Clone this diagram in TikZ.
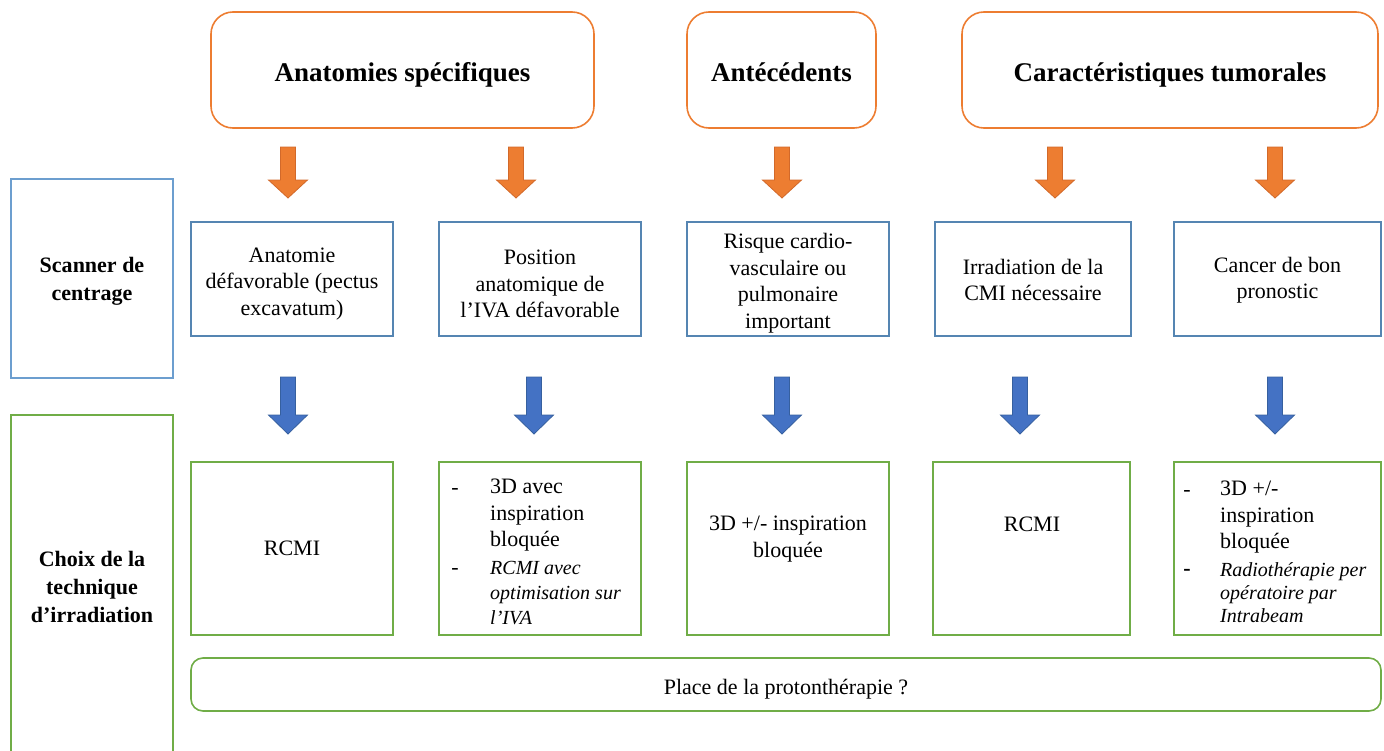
\documentclass[tikz,border=0pt]{standalone}
\usepackage{fontspec}
\setmainfont{Liberation Serif}
\definecolor{orng}{HTML}{ED7D31}
\definecolor{orngdk}{HTML}{D2692A}
\definecolor{bluebox}{HTML}{5585B2}
\definecolor{bluelt}{HTML}{6C9ECF}
\definecolor{grn}{HTML}{70AD47}
\definecolor{arrblue}{HTML}{4472C4}
\definecolor{arrbluedk}{HTML}{36609F}
% #1 coordinate (top centre), #2 style, #3 shaft length, #4 head length
\newcommand\blkarrow[4]{%
  \draw[#2] (#1) ++(-7.5,0) -- ++(0,#3) -- ++(-12,0) -- ++(19.5,#4) -- ++(19.5,-#4) -- ++(-12,0) -- ++(0,-#3) -- cycle;}
\tikzset{
  topbox/.style={draw=orng, line width=1.6bp, rounded corners=22bp, minimum height=116bp},
  toptxt/.style={inner sep=0, text height=19bp, text depth=6bp,
    font=\fontsize{27bp}{32bp}\selectfont\bfseries},
  midbox/.style={draw=bluebox, line width=1.6bp, minimum height=114bp},
  lowbox/.style={draw=grn, line width=1.6bp, minimum height=173bp},
  boxtxt/.style={inner sep=0, align=center},
  sidebox/.style={line width=1.6bp, minimum width=162bp},
  sidetxt/.style={inner sep=0, align=center, font=\fontsize{22bp}{28bp}\selectfont\bfseries},
  oarr/.style={fill=orng, draw=orngdk, line width=0.8bp},
  barr/.style={fill=arrblue, draw=arrbluedk, line width=0.8bp},
  itemtxt/.style={inner sep=0, anchor=north west, align=left},
  dashmark/.style={inner sep=0, anchor=base},
  itfont/.style={font=\fontsize{20bp}{25bp}\selectfont\itshape},
}
\begin{document}
\begin{tikzpicture}[x=1bp, y=-1bp, font=\fontsize{22bp}{26.5bp}\selectfont]
\path[use as bounding box] (0,0) rectangle (1384,750);

% top category boxes
\node[topbox, minimum width=383bp] (T1) at (402.5,70) {};
\node[topbox, minimum width=189bp] (T2) at (781.5,70) {};
\node[topbox, minimum width=416bp] (T3) at (1170,70) {};
\node[toptxt] (T1t) at ([yshift=-5bp]T1.center) {Anatomies spécifiques};
\node[toptxt] (T2t) at ([yshift=-5bp]T2.center) {Antécédents};
\node[toptxt] (T3t) at ([yshift=-5bp]T3.center) {Caractéristiques tumorales};

% side labels
\node[sidebox, draw=bluelt, minimum height=199bp] (S) at (92,278.5) {};
\node[sidetxt] (St) at ([yshift=-3bp]S.center) {Scanner de\\centrage};
\node[sidebox, draw=grn, minimum height=342bp] (C) at (92,586) {};
\node[sidetxt] (Ct) at ([yshift=-1bp]C.center) {Choix de la\\technique\\d’irradiation};

% orange arrows
\coordinate (oa1) at (288,147);
\coordinate (oa2) at (516,147);
\coordinate (oa3) at (782,147);
\coordinate (oa4) at (1055,147);
\coordinate (oa5) at (1275,147);
\blkarrow{oa1}{oarr}{33}{18}
\blkarrow{oa2}{oarr}{33}{18}
\blkarrow{oa3}{oarr}{33}{18}
\blkarrow{oa4}{oarr}{33}{18}
\blkarrow{oa5}{oarr}{33}{18}

% middle boxes
\node[midbox, minimum width=202bp] (mA) at (292,279) {};
\node[midbox, minimum width=202bp] (mB) at (540,279) {};
\node[midbox, minimum width=202bp] (mC) at (788,279) {};
\node[midbox, minimum width=196bp] (mD) at (1033,279) {};
\node[midbox, minimum width=207bp] (mE) at (1277.5,279) {};
\node[boxtxt] (mAt) at ([yshift=-5bp]mA.center) {Anatomie\\défavorable (pectus\\excavatum)};
\node[boxtxt] (mBt) at ([yshift=-5bp]mB.center) {Position\\anatomique de\\l’IVA défavorable};
\node[boxtxt] (mCt) at ([yshift=-4bp]mC.center) {Risque cardio-\\vasculaire ou\\pulmonaire\\important};
\node[boxtxt] (mDt) at ([yshift=-1bp]mD.center) {Irradiation de la\\CMI nécessaire};
\node[boxtxt] (mEt) at ([yshift=-1bp]mE.center) {Cancer de bon\\pronostic};

% blue arrows
\coordinate (ba1) at (288,377);
\coordinate (ba2) at (534,377);
\coordinate (ba3) at (782,377);
\coordinate (ba4) at (1020,377);
\coordinate (ba5) at (1275,377);
\blkarrow{ba1}{barr}{38}{19}
\blkarrow{ba2}{barr}{38}{19}
\blkarrow{ba3}{barr}{38}{19}
\blkarrow{ba4}{barr}{38}{19}
\blkarrow{ba5}{barr}{38}{19}

% lower boxes
\node[lowbox, minimum width=202bp] (lA) at (292,548.5) {RCMI};
\node[lowbox, minimum width=202bp] (lB) at (540,548.5) {};
\node[lowbox, minimum width=202bp] (lC) at (788,548.5) {};
\node[lowbox, minimum width=197bp] (lD) at (1031.5,548.5) {};
\node[lowbox, minimum width=207bp] (lE) at (1277.5,548.5) {};

% texts of lower boxes
\node[dashmark] (dB1) at (455,494) {-};
\node[itemtxt] (iB1) at (490,479) {3D avec\\inspiration\\bloquée};
\node[dashmark] (dB2) at (455,574) {-};
\node[itemtxt, itfont] (iB2) at (490,561) {RCMI avec\\optimisation sur\\l’IVA};

\node[boxtxt] (tC) at (788,539) {3D +/- inspiration\\bloquée};
\node[boxtxt] (tD) at (1032,524) {RCMI};

\node[dashmark] (dE1) at (1187,496) {-};
\node[itemtxt] (iE1) at (1220,481) {3D +/-\\inspiration\\bloquée};
\node[dashmark, font=\fontsize{22bp}{26.5bp}\selectfont\bfseries] (dE2) at (1187,575) {-};
\node[itemtxt, font=\fontsize{20bp}{23bp}\selectfont\itshape] (iE2) at (1220,562) {Radiothérapie per\\opératoire par\\Intrabeam};

% bottom rounded box
\node[draw=grn, line width=1.6bp, rounded corners=12bp, minimum width=1190bp, minimum height=53bp] (P) at (786,684.5) {};
\node[boxtxt, text height=15bp, text depth=5bp] (Pt) at ([yshift=-5bp]P.center) {Place de la protonthérapie ?};
\end{tikzpicture}
\end{document}
